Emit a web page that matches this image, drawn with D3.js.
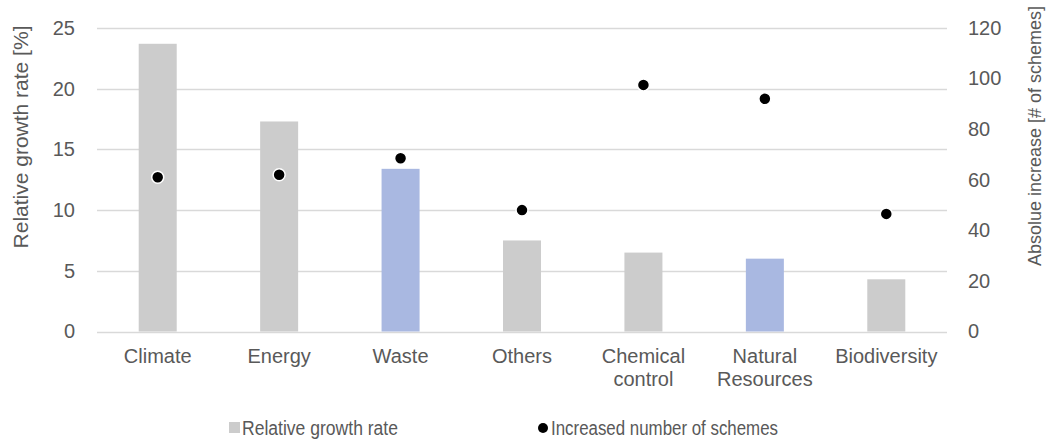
<!DOCTYPE html>
<html>
<head>
<meta charset="utf-8">
<script src="https://cdn.jsdelivr.net/npm/d3@7"></script>
<style>
  html, body { margin: 0; padding: 0; background: #fff; }
  svg { display: block; font-family: "Liberation Sans", Arial, sans-serif; }
</style>
</head>
<body>
<svg id="chart" width="1049" height="443"></svg>
<script>
const categories = ["Climate", "Energy", "Waste", "Others", "Chemical\ncontrol", "Natural\nResources", "Biodiversity"];
const growthRate = [23.7, 17.3, 13.4, 7.5, 6.5, 6.0, 4.3];
const increasedSchemes = [61, 62, 68.5, 48, 97.5, 92, 46.5];
const highlighted = ["Waste", "Natural\nResources"];
const leftTicks = [0, 5, 10, 15, 20, 25];
const rightTicks = [0, 20, 40, 60, 80, 100, 120];
const leftTitle = "Relative growth rate [%]";
const rightTitle = "Absolue increase [# of schemes]";
const legendLabels = ["Relative growth rate", "Increased number of schemes"];

const svg = d3.select("#chart");
const textColor = "#595959";
const gridColor = "#d9d9d9";
const grey = "#cccccc";
const blue = "#a9b8e1";

const pLeft = 97, pRight = 947, pTop = 28, pBottom = 331.5;

const x = d3.scaleBand().domain(categories).range([pLeft, pRight]).paddingInner(0.687).paddingOuter(0.3435);
const yL = d3.scaleLinear().domain([0, 25]).range([pBottom, pTop]);
const yR = d3.scaleLinear().domain([0, 120]).range([pBottom, pTop]);

// gridlines
svg.append("g").selectAll("line").data(leftTicks).join("line")
  .attr("x1", pLeft).attr("x2", pRight)
  .attr("y1", d => Math.round(yL(d)) + 0.5).attr("y2", d => Math.round(yL(d)) + 0.5)
  .attr("stroke", gridColor).attr("stroke-width", 1.5);

// left axis
const gL = svg.append("g").attr("transform", `translate(${pLeft},0)`)
  .call(d3.axisLeft(yL).tickValues(leftTicks).tickSize(0).tickPadding(22));
gL.select(".domain").remove();
gL.selectAll("text").attr("fill", textColor).style("font-size", "20px").style("font-family", "Liberation Sans, Arial, sans-serif");

// right axis
const gR = svg.append("g").attr("transform", `translate(${pRight},0)`)
  .call(d3.axisRight(yR).tickValues(rightTicks).tickSize(0).tickPadding(21));
gR.select(".domain").remove();
gR.selectAll("text").attr("fill", textColor).style("font-size", "20px").style("font-family", "Liberation Sans, Arial, sans-serif");

// bars
svg.append("g").selectAll("rect").data(categories).join("rect")
  .attr("x", d => x(d))
  .attr("y", (d, i) => yL(growthRate[i]))
  .attr("width", x.bandwidth())
  .attr("height", (d, i) => yL(0) - yL(growthRate[i]))
  .attr("fill", d => highlighted.includes(d) ? blue : grey);

// dots
svg.append("g").selectAll("circle").data(categories).join("circle")
  .attr("cx", d => x(d) + x.bandwidth() / 2)
  .attr("cy", (d, i) => yR(increasedSchemes[i]))
  .attr("r", 6)
  .attr("fill", "#000")
  .attr("stroke", "#fff").attr("stroke-width", 1.5);

// x labels
const xl = svg.append("g").selectAll("text").data(categories).join("text")
  .attr("x", d => x(d) + x.bandwidth() / 2)
  .attr("y", 363)
  .attr("text-anchor", "middle")
  .attr("fill", textColor)
  .style("font-size", "20px");
xl.each(function(d) {
  const lines = d.split("\n");
  d3.select(this).selectAll("tspan").data(lines).join("tspan")
    .attr("x", x(d) + x.bandwidth() / 2)
    .attr("dy", (l, i) => i === 0 ? 0 : 23)
    .text(l => l);
});

// axis titles
svg.append("text")
  .attr("transform", `translate(20,137) rotate(-90)`)
  .attr("text-anchor", "middle").attr("dominant-baseline", "central")
  .attr("fill", textColor).style("font-size", "21px")
  .text(leftTitle);
svg.append("text")
  .attr("transform", `translate(1035,136) rotate(-90)`)
  .attr("text-anchor", "middle").attr("dominant-baseline", "central")
  .attr("fill", textColor).style("font-size", "18px")
  .text(rightTitle);

// legend
const lg = svg.append("g");
lg.append("rect").attr("x", 229).attr("y", 422).attr("width", 11).attr("height", 11).attr("fill", grey);
lg.append("text").attr("x", 242).attr("y", 435).attr("fill", textColor).style("font-size", "20px")
  .attr("textLength", 156).attr("lengthAdjust", "spacingAndGlyphs").text(legendLabels[0]);
lg.append("circle").attr("cx", 543).attr("cy", 428).attr("r", 5).attr("fill", "#000");
lg.append("text").attr("x", 551).attr("y", 435).attr("fill", textColor).style("font-size", "20px")
  .attr("textLength", 227).attr("lengthAdjust", "spacingAndGlyphs").text(legendLabels[1]);
</script>
</body>
</html>
